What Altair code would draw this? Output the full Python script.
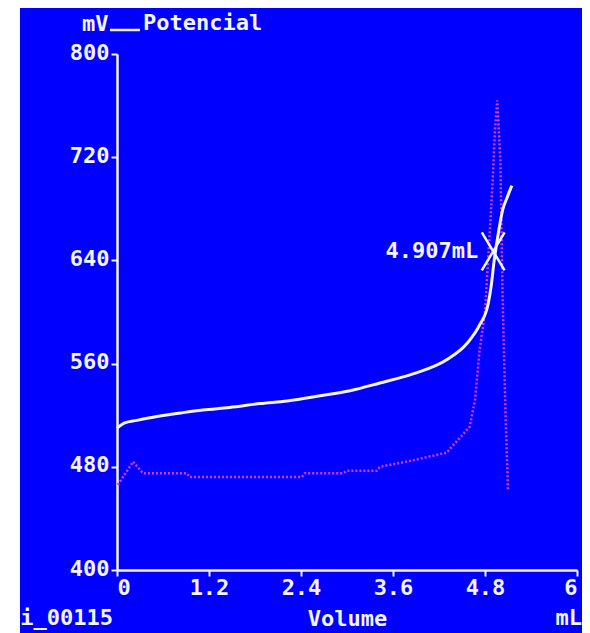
import altair as alt
import pandas as pd

# Potential curve (mL, mV)
pot_vol = [0.00, 0.10, 0.26, 0.52, 0.86, 1.12, 1.47, 1.87, 2.22, 2.65, 3.04, 3.43,
           3.86, 4.30, 4.57, 4.73, 4.84, 4.88, 4.92, 4.96, 5.03, 5.09, 5.15]
pot_mv = [510, 514, 516, 519, 522, 524, 526, 529, 531, 535, 539, 545,
          552, 563, 576, 590, 606, 620, 640, 656, 679, 689, 698]

# Derivative curve (mL, scaled to mV axis)
der_vol = [0.01, 0.21, 0.34, 0.91, 0.95, 2.41, 2.45, 2.95, 3.00, 3.39, 3.43, 3.86,
           4.30, 4.60, 4.67, 4.73, 4.80, 4.86, 4.90, 4.93, 4.96, 5.00, 5.03, 5.07, 5.10]
der_mv = [466, 484, 475, 475, 472, 472, 475, 475, 477, 477, 480, 485,
          491, 511, 532, 571, 600, 660, 702, 741, 764, 718, 609, 516, 462]

# End point
ep_vol = [4.907]
ep_mv = [647]
ep_text = ["4.907mL"]

x_ticks = [0, 1.2, 2.4, 3.6, 4.8, 6]
y_ticks = [400, 480, 560, 640, 720, 800]
legend_text = ["Potencial"]
unit_text = ["mL"]
file_text = ["i_00115"]

FONT = "DejaVu Sans Mono"
WHITE = "#F4F4FF"
BLUE = "#0000FF"
MAGENTA = "#D23CF0"
FS = 22

pot = pd.DataFrame({"vol": pot_vol, "mv": pot_mv})
der = pd.DataFrame({"vol": der_vol, "mv": der_mv})
ep = pd.DataFrame({"vol": ep_vol, "mv": ep_mv, "label": ep_text})

xenc = alt.X("vol:Q", scale=alt.Scale(domain=[0, 6], nice=False, zero=False),
             axis=alt.Axis(values=x_ticks, format="~g", title="Volume",
                           titleY=48, titleBaseline="middle", labelPadding=1))
yenc = alt.Y("mv:Q", scale=alt.Scale(domain=[400, 800], nice=False, zero=False),
             axis=alt.Axis(values=y_ticks, title="mV", titleAngle=0, titleAlign="right",
                           titleBaseline="middle", titleX=-9, titleY=-31,
                           labelOffset=-2, labelPadding=2))

der_line = alt.Chart(der).mark_line(color=MAGENTA, strokeWidth=2.5,
                                    strokeDash=[2, 2]).encode(x=xenc, y=yenc)
pot_line = alt.Chart(pot).mark_line(color=WHITE, strokeWidth=3,
                                    interpolate="monotone").encode(x="vol:Q", y="mv:Q")

ep_mark = alt.Chart(ep).mark_point(shape="M-0.6,-1L0.6,1M-0.6,1L0.6,-1", size=1444,
                                   filled=False, stroke=WHITE, strokeWidth=2.5,
                                   opacity=1).encode(x="vol:Q", y="mv:Q")
ep_label = alt.Chart(ep).mark_text(align="right", baseline="middle", dx=-15,
                                   font=FONT, fontSize=FS, fontWeight="bold",
                                   color=WHITE).encode(x="vol:Q", y="mv:Q", text="label:N")

leg_rule = alt.Chart(pd.DataFrame({"t": legend_text})).mark_rule(
    color=WHITE, strokeWidth=2.5).encode(x=alt.value(-7), x2=alt.value(23), y=alt.value(-24))
leg_text = alt.Chart(pd.DataFrame({"t": legend_text})).mark_text(
    align="left", baseline="middle", font=FONT, fontSize=FS, fontWeight="bold",
    color=WHITE).encode(text="t:N", x=alt.value(26), y=alt.value(-31))
unit = alt.Chart(pd.DataFrame({"t": unit_text})).mark_text(
    align="right", baseline="middle", font=FONT, fontSize=FS, fontWeight="bold",
    color=WHITE).encode(text="t:N", x=alt.value(465), y=alt.value(564))
fname = alt.Chart(pd.DataFrame({"t": file_text})).mark_text(
    align="right", baseline="middle", font=FONT, fontSize=FS, fontWeight="bold",
    color=WHITE).encode(text="t:N", x=alt.value(-4), y=alt.value(564))
strip = alt.Chart(pd.DataFrame({"t": file_text})).mark_rect(color="white").encode(
    x=alt.value(-110), x2=alt.value(-97), y=alt.value(-47), y2=alt.value(590))

chart = alt.layer(der_line, pot_line, ep_mark, ep_label, leg_rule, leg_text, unit,
                  fname, strip).properties(
    width=460, height=516,
    padding={"left": 109, "top": 46, "right": 5, "bottom": 63},
    autosize="none",
    background=BLUE,
).configure_view(stroke=None).configure_axis(
    grid=False, domainColor=WHITE, domainWidth=2.5, tickColor=WHITE, tickWidth=2,
    tickSize=6, labelColor=WHITE, labelFont=FONT, labelFontSize=FS,
    labelFontWeight="bold", titleColor=WHITE, titleFont=FONT, titleFontSize=FS,
    titleFontWeight="bold",
)

chart.save("out.html", embed_options={"renderer": "svg", "actions": False})
